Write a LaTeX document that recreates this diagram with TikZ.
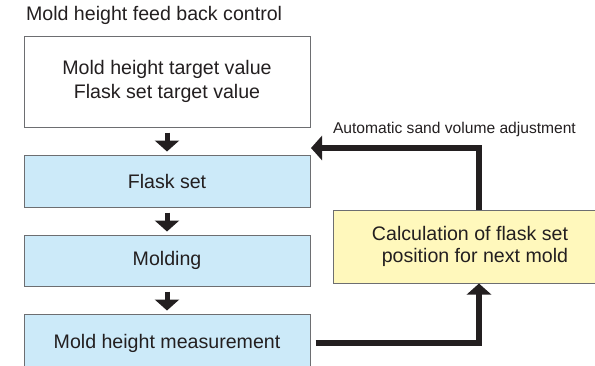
\documentclass[tikz,border=0pt]{standalone}
\usepackage{fontspec}
\setmainfont{Liberation Sans}
\usepackage{xcolor}
\usetikzlibrary{arrows.meta,calc}
\definecolor{flowblue}{HTML}{CCEAF9}
\definecolor{calcyel}{HTML}{FFF8BC}
\definecolor{edge}{HTML}{6D6E71}
\definecolor{ink}{HTML}{231F20}

\begin{document}
\begin{tikzpicture}[x=0.5pt,y=-0.5pt,
  font=\fontsize{9.8}{12}\selectfont, text=ink,
  box/.style={draw=edge,line width=0.5pt,minimum width=143pt,inner sep=0pt,align=center},
  flow/.style={box,fill=flowblue},
  down/.style={draw=ink,line width=2.5pt,-{Triangle[length=5.5pt,width=12pt]},shorten <=2.5pt,shorten >=1.5pt},
  fback/.style={draw=ink,line width=2.7pt,-{Triangle[length=5.5pt,width=12pt]}}]
  \useasboundingbox (0,0) rectangle (595,365);
  \clip (0,0) rectangle (595,365);
  \node[anchor=west] (title) at (19,15) {Mold height feed back control};
  % main flow
  \node[box,fill=white,minimum height=45.5pt,font=\fontsize{9.8}{12.4}\selectfont] (target) at (167,81.5)
    {Mold height target value\\Flask set target value};
  \node[flow,minimum height=26pt] (flask) at (167,181) {Flask set};
  \node[flow,minimum height=25.5pt] (mold) at (167,260.5) {Molding};
  \node[flow,minimum height=29pt] (meas) at (167,343) {Mold height measurement};
  \draw[down] (target) -- (flask);
  \draw[down] (flask) -- (mold);
  \draw[down] (mold) -- (meas);
  % feedback loop
  \node[box,fill=calcyel,minimum width=137pt,minimum height=36.5pt,align=right,
    font=\fontsize{9.8}{11}\selectfont] (calc) at (470,246.5)
    {Calculation of flask set\\position for next mold};
  \coordinate (ret) at (311,148);
  \draw[fback] ([xshift=2.5pt]meas.east) -| ([xshift=4.5pt]calc.south);
  \draw[fback] ([xshift=4.5pt]calc.north) |- (ret);
  \node[anchor=west,font=\fontsize{7.8}{9}\selectfont] (auto) at (326,129)
    {Automatic sand volume adjustment};
\end{tikzpicture}
\end{document}
